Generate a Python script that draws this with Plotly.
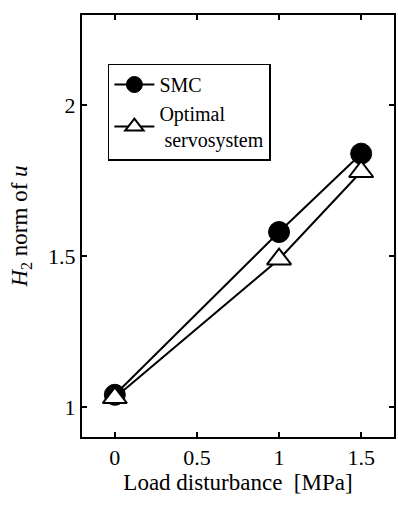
import plotly.graph_objects as go

load = [0, 1, 1.5]
smc = [1.04, 1.58, 1.84]
optimal = [1.03, 1.49, 1.78]

x_ticks = [0, 0.5, 1, 1.5]
x_tick_labels = ["0", "0.5", "1", "1.5"]
y_ticks = [1, 1.5, 2]
y_tick_labels = ["1", "1.5", "2"]

FONT = "Liberation Serif, Times New Roman, serif"

fig = go.Figure()
fig.add_trace(go.Scatter(
    x=load, y=smc, mode="lines+markers", name="SMC",
    line=dict(color="black", width=2),
    marker=dict(symbol="circle", size=21, color="black", line=dict(color="black", width=1)),
))
fig.add_trace(go.Scatter(
    x=load, y=optimal, mode="lines+markers", name="Optimal<br> servosystem",
    line=dict(color="black", width=2),
    marker=dict(symbol="triangle-up", size=21, color="white", line=dict(color="black", width=2)),
))

axis_common = dict(
    showline=True, linecolor="black", linewidth=2, mirror="ticks",
    ticks="inside", ticklen=5, tickwidth=1.5, tickcolor="black",
    showgrid=False, zeroline=False,
    tickfont=dict(family=FONT, size=22, color="black"),
)

fig.update_xaxes(
    range=[-0.2, 1.7], tickvals=x_ticks, ticktext=x_tick_labels,
    title=dict(text="Load disturbance  [MPa]", font=dict(family=FONT, size=23, color="black"), standoff=4),
    **axis_common,
)
fig.update_yaxes(
    range=[0.9, 2.3], tickvals=y_ticks, ticktext=y_tick_labels,
    title=dict(text="<i>H</i><sub>2</sub> norm of <i>u</i>", font=dict(family=FONT, size=23, color="black"), standoff=14),
    **axis_common,
)

fig.update_layout(
    width=398, height=506,
    margin=dict(l=82, r=2, t=15, b=69),
    paper_bgcolor="white", plot_bgcolor="white",
    font=dict(family=FONT, color="black"),
    showlegend=True,
    legend=dict(
        x=0.083, y=0.885, xanchor="left", yanchor="top",
        bgcolor="white", bordercolor="black", borderwidth=1.5,
        font=dict(family=FONT, size=20, color="black"),
        itemwidth=40, tracegroupgap=0,
    ),
)

fig.write_html("out.html")
